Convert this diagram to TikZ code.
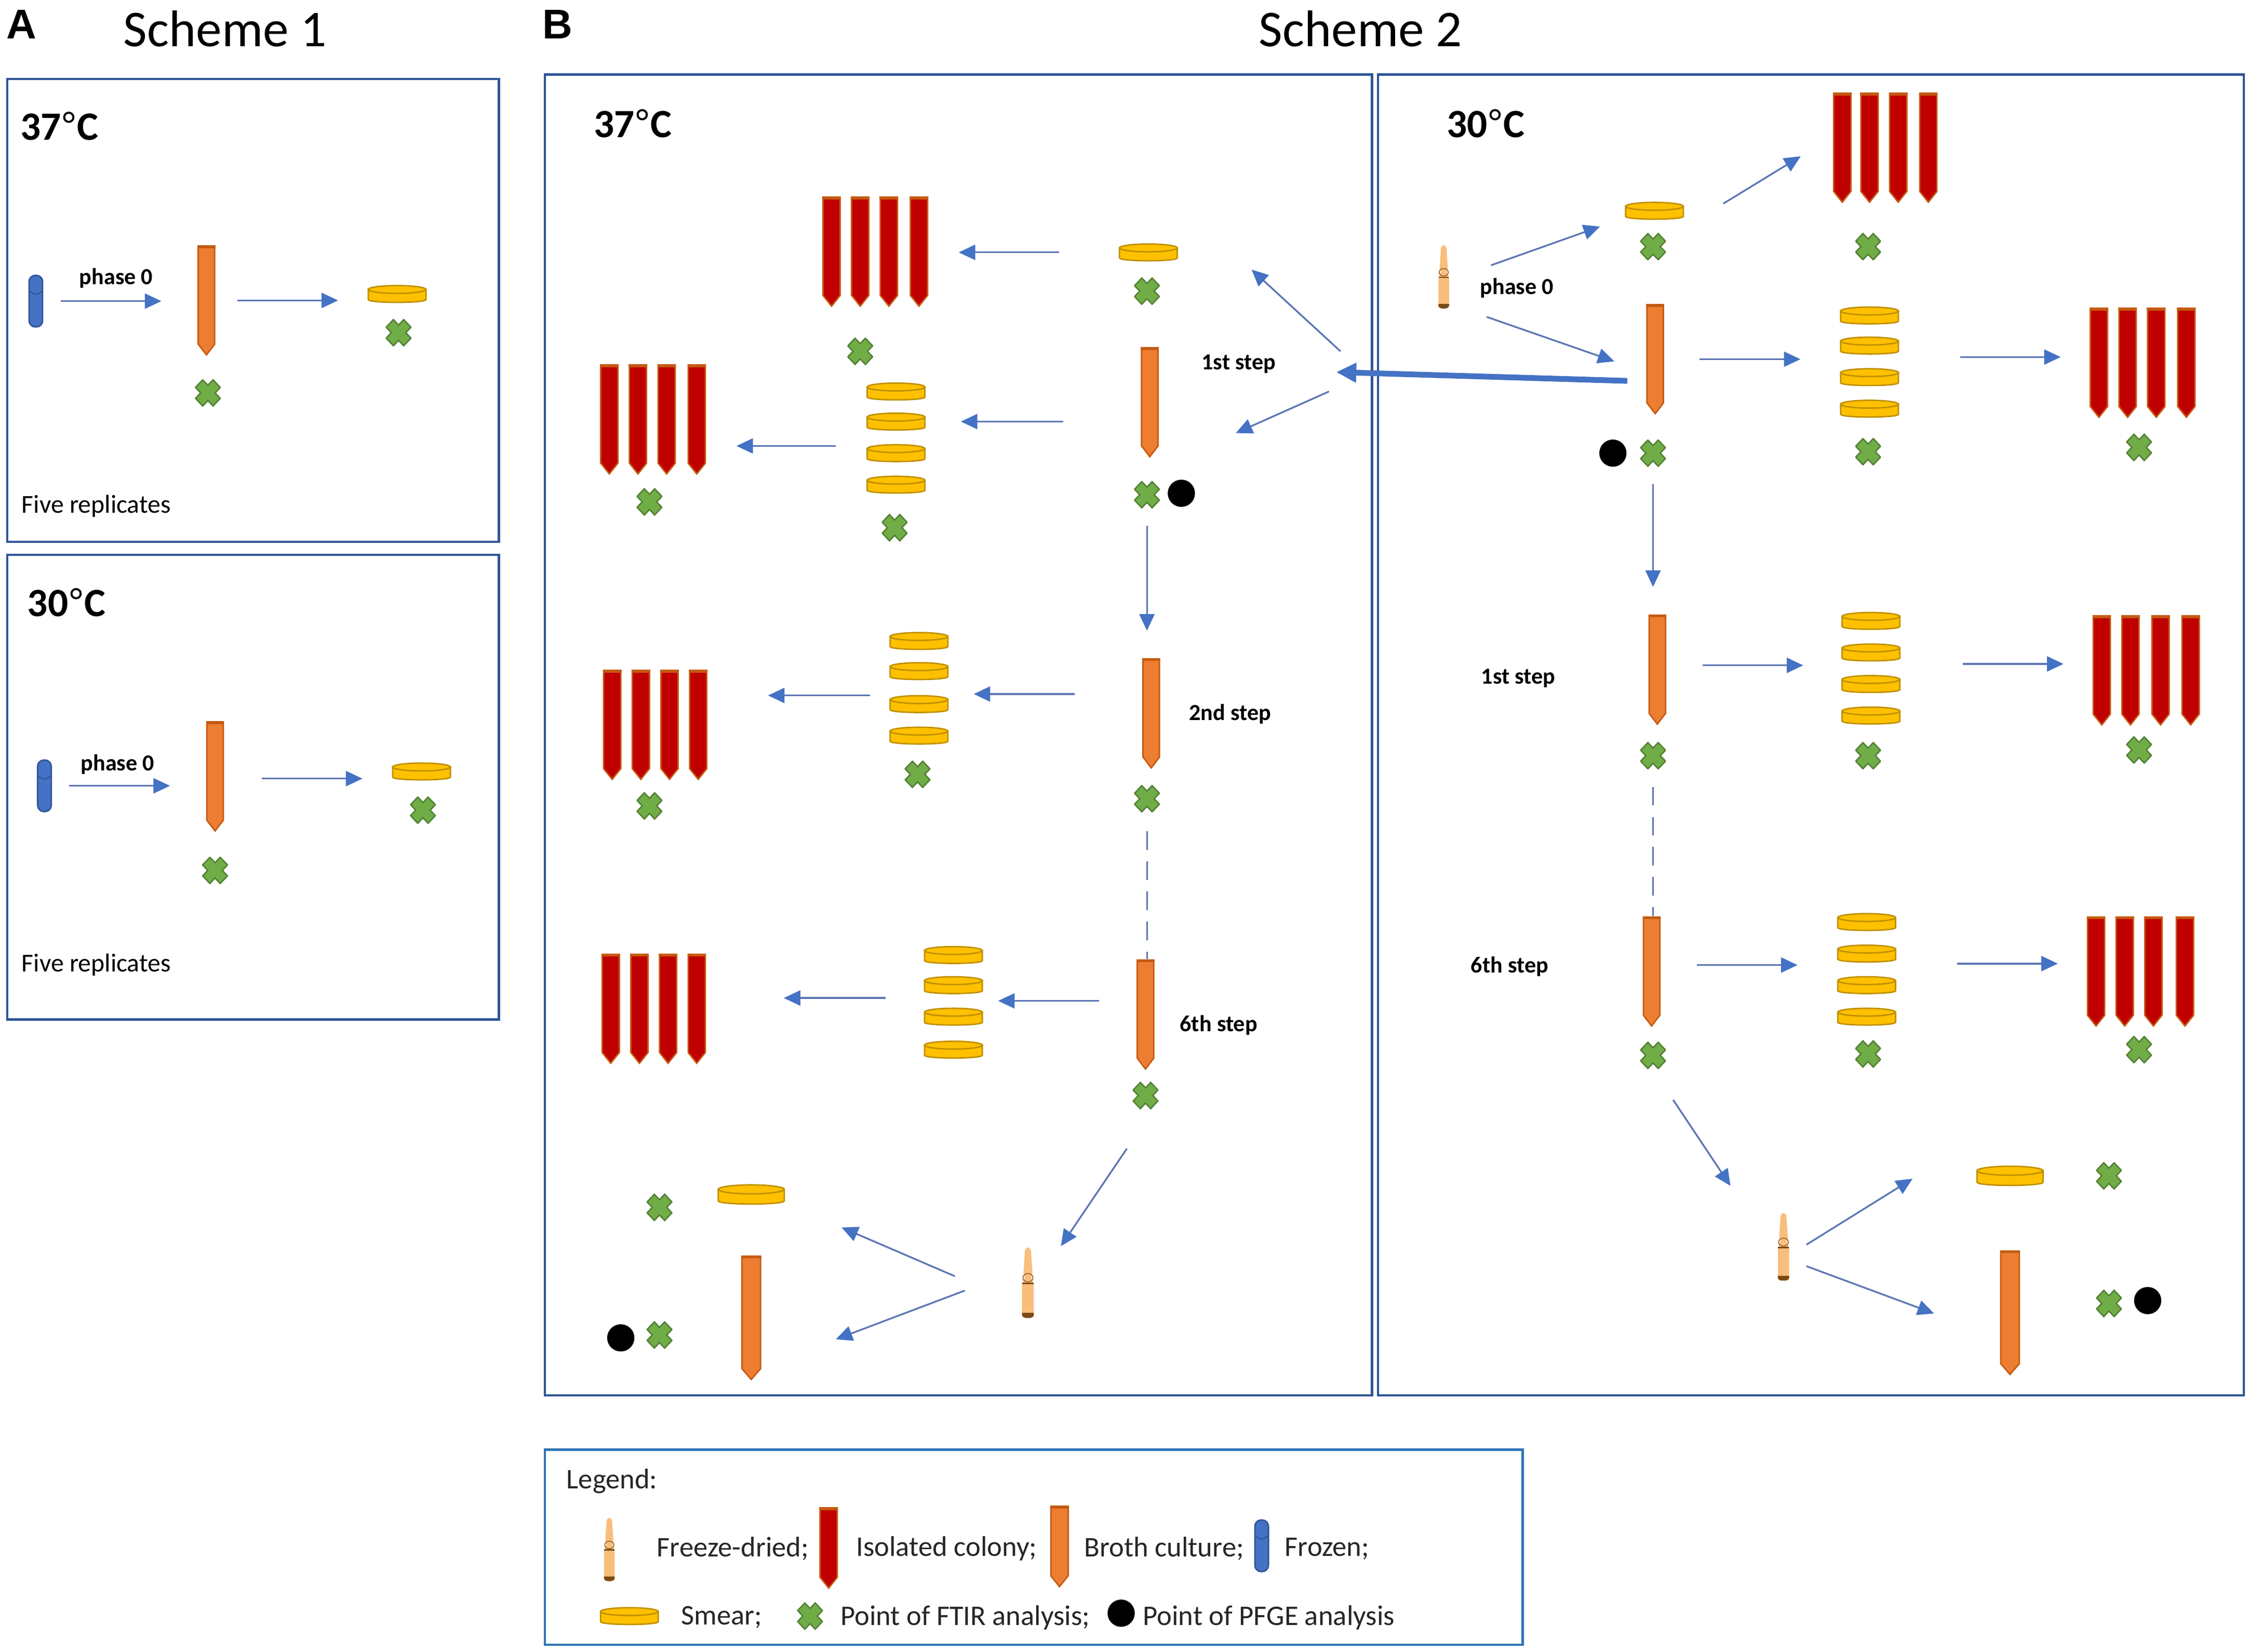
\documentclass[tikz,border=0pt]{standalone}
\usepackage{fontspec}
\setmainfont{Carlito}
\newfontfamily\letterfont{Liberation Sans}
\usetikzlibrary{arrows.meta}
\definecolor{framecol}{HTML}{2F5597}
\definecolor{legendcol}{HTML}{2E75B6}
\definecolor{flowcol}{HTML}{4472C4}
\definecolor{flowline}{HTML}{5B76B4}
\definecolor{brothfill}{HTML}{ED7D31}
\definecolor{brothline}{HTML}{C55A11}
\definecolor{colonyfill}{HTML}{C00000}
\definecolor{smearfill}{HTML}{FFC000}
\definecolor{smearline}{HTML}{BF9000}
\definecolor{ftirfill}{HTML}{70AD47}
\definecolor{ftirline}{HTML}{548235}
\definecolor{ampfill}{HTML}{F9BE7C}
\definecolor{ampline}{HTML}{7B4A12}
\newcommand{\degmark}{{\letterfont\mdseries °}}
\tikzset{
  panel/.style={draw=framecol, line width=1.5pt},
  flow/.style={draw=flowline, line width=1.2pt, ->},
  dashflow/.style={draw=flowline, line width=1.2pt, dash pattern=on 13pt off 8pt},
  gaps/.style 2 args={shorten <=#1pt, shorten >=#2pt},
  tube/.style 2 args={inner sep=0pt, path picture={
      \draw[line width=1pt, draw=#2, fill=#1]
        ([xshift=.5pt,yshift=-.5pt]path picture bounding box.north west)
        -- ([xshift=-.5pt,yshift=-.5pt]path picture bounding box.north east)
        -- ([xshift=-.5pt,yshift=8pt]path picture bounding box.south east)
        -- ([yshift=.5pt]path picture bounding box.south)
        -- ([xshift=.5pt,yshift=8pt]path picture bounding box.south west) -- cycle;
      \fill[#2] (path picture bounding box.north west) rectangle ([yshift=-2pt]path picture bounding box.north east);
    }},
  broth/.style={tube={brothfill}{brothline}, minimum width=12.5pt, minimum height=77pt},
  bigbroth/.style={tube={brothfill}{brothline}, minimum width=14pt, minimum height=87pt},
  colony/.style={tube={colonyfill}{brothline}, minimum width=13pt, minimum height=77pt},
  smear/.style={inner sep=0pt, minimum width=#1*1pt, minimum height=#1*.31pt, path picture={
      \begin{scope}[shift={(path picture bounding box.center)}, x=.01pt*#1, y=-.0031pt*#1]
        \draw[line width=1pt, draw=smearline, fill=smearfill] (-48,-24) -- (-48,30)
          .. controls (-48,50) and (48,50) .. (48,30) -- (48,-24) -- cycle;
        \draw[line width=1pt, draw=smearline, fill=smearfill] (0,-24) ellipse (48 and 21);
      \end{scope}
    }},
  smear/.default=42,
  ftir/.style={inner sep=0pt, minimum width=18pt, minimum height=19pt, path picture={
      \begin{scope}[shift={(path picture bounding box.center)}, x=.18pt, y=-.19pt]
        \draw[line width=1pt, draw=ftirline, fill=ftirfill] (-48,-20) -- (-20,-48) -- (0,-28)
          -- (20,-48) -- (48,-20) -- (28,0) -- (48,20) -- (20,48) -- (0,28) -- (-20,48)
          -- (-48,20) -- (-28,0) -- cycle;
      \end{scope}
    }},
  pfge/.style={circle, fill=black, inner sep=0pt, minimum size=19pt},
  frozen/.style={draw=framecol, line width=1pt, fill=flowcol, rounded corners=4.4pt, inner sep=0pt,
    minimum width=9.5pt, minimum height=36pt, path picture={
      \draw[framecol, line width=.8pt] ([yshift=-11pt]path picture bounding box.north west)
        .. controls ([yshift=-14pt]path picture bounding box.north) .. ([yshift=-11pt]path picture bounding box.north east);
    }},
  ampoule/.style={inner sep=0pt, minimum width=.2pt*#1, minimum height=#1*1pt, path picture={
      \begin{scope}[shift={(path picture bounding box.center)}, x=.002pt*#1, y=-.01pt*#1]
        \fill[ampfill] (-22,-44) .. controls (-20,-52) and (20,-52) .. (22,-44) -- (32,-14)
          -- (22,-8) -- (42,2) -- (42,46) .. controls (42,52) and (-42,52) .. (-42,46)
          -- (-42,2) -- (-22,-8) -- (-32,-14) -- cycle;
        \draw[ampline!70!ampfill, line width=.7pt] (0,-7) ellipse (36 and 6);
        \draw[ampline, line width=1pt] (-40,1) -- (40,1);
        \fill[ampline] (-42,43) -- (42,43) -- (42,46) .. controls (42,52) and (-42,52) .. (-42,46) -- cycle;
      \end{scope}
    }},
  ampoule/.default=46,
  plaintext/.style={inner sep=0pt, anchor=west, yshift=-1pt, font=\fontsize{18}{22}\selectfont},
  legendtext/.style={inner sep=0pt, anchor=west, yshift=-1pt, text=black!85, font=\fontsize{19.8}{23}\selectfont},
  steptext/.style={inner sep=0pt, yshift=-1pt, font=\fontsize{16}{20}\selectfont\bfseries},
  temptext/.style={inner sep=0pt, anchor=west, font=\fontsize{28}{32}\selectfont\bfseries},
  titletext/.style={inner sep=0pt, font=\fontsize{36}{40}\selectfont},
  lettertext/.style={inner sep=0pt, font=\letterfont\fontsize{29}{32}\selectfont\bfseries},
}
\begin{document}
\begin{tikzpicture}[x=1pt, y=-1pt, >={Triangle[length=11.5pt,width=10.5pt,color=flowcol]}]
  \useasboundingbox (0,0) rectangle (1568,1152);

  % frames
  \node[lettertext] (letterA) at (15,17) {A};
  \node[titletext] (titleA) at (157,20) {Scheme 1};
  \node[lettertext] (letterB) at (389,17) {B};
  \node[titletext] (titleB) at (949,20) {Scheme 2};
  \draw[panel] (5,55) rectangle (348,378);
  \draw[panel] (5,387) rectangle (348,711);
  \draw[panel] (380,52) rectangle (957,973);
  \draw[panel] (961,52) rectangle (1565,973);
  \draw[draw=legendcol, line width=1.6pt] (380,1011) rectangle (1062,1147);

  % scheme 1, 37
  \node[temptext] (tempA1) at (14,88) {37\degmark C};
  \node[frozen] (fzA1) at (25,210) {};
  \node[steptext] (phaseA1) at (81,193) {phase 0};
  \node[broth] (brA1) at (144,209.5) {};
  \node[smear] (smA1) at (277,205) {};
  \node[ftir] (ftA1) at (145,274) {};
  \node[ftir] (ftA2) at (278,232) {};
  \node[plaintext] (fiveA1) at (15,352) {Five replicates};
  \draw[flow, gaps={12}{25}] (fzA1.east) -- (fzA1.east -| brA1.west);
  \draw[flow, gaps={15}{20}] (brA1.east) -- (brA1.east -| smA1.west);

  % scheme 1, 30
  \node[temptext] (tempA2) at (19,420) {30\degmark C};
  \node[frozen] (fzA2) at (31,548) {};
  \node[steptext] (phaseA2) at (82,532) {phase 0};
  \node[broth] (brA2) at (150,541.5) {};
  \node[smear] (smA2) at (294,538) {};
  \node[ftir] (ftA3) at (150,607) {};
  \node[ftir] (ftA4) at (295,565) {};
  \node[plaintext] (fiveA2) at (15,672) {Five replicates};
  \draw[flow, gaps={12}{25}] (fzA2.east) -- (fzA2.east -| brA2.west);
  \draw[flow, gaps={26}{20}] ([yshift=-1.5pt]brA2.east) -- ([yshift=-1.5pt]brA2.east -| smA2.west);

  % scheme 2, 37
  \node[temptext] (tempB1) at (414,86) {37\degmark C};
  \node[smear] (smB1) at (801,176) {};
  \node[ftir] (ftB1) at (800,203) {};
  \foreach \cx [count=\i] in {580,600,620,641}
    \node[colony] (coB\i) at (\cx,175.5) {};
  \node[ftir] (ftB2) at (600,245) {};
  \draw[flow, gaps={41}{21}] (smB1.west) -- (smB1.west -| coB4.east);

  \node[steptext] (stepB1) at (864,253) {1st step};
  \node[broth] (brB1) at (802,280.5) {};
  \node[ftir] (ftB3) at (800,345) {};
  \node[pfge] (pfB1) at (824,344) {};
  \foreach \sy [count=\i] in {273,294,316,338}
    \node[smear] (stB\i) at (625,\sy) {};
  \node[ftir] (ftB4) at (624,368) {};
  \foreach \cx [count=\i] in {425,445,465,486}
    \node[colony] (coC\i) at (\cx,292.5) {};
  \node[ftir] (ftB5) at (453,350) {};
  \draw[flow, gaps={54}{24}] (brB1.west |- stB2) -- (stB2.east);
  \draw[flow, gaps={21}{21}] ([yshift=5pt]stB3.west) -- ([yshift=5pt]stB3.west -| coC4.east);

  \node[broth] (brB2) at (803,497.5) {};
  \node[steptext] (stepB2) at (858,497) {2nd step};
  \node[ftir] (ftB6) at (800,557) {};
  \foreach \sy [count=\i] in {447,468,491,513}
    \node[smear] (stC\i) at (641,\sy) {};
  \node[ftir] (ftB7) at (640,540) {};
  \foreach \cx [count=\i] in {427,447,467,487}
    \node[colony] (coD\i) at (\cx,505.5) {};
  \node[ftir] (ftB8) at (453,562) {};
  \draw[flow, gaps={47}{17}] ([yshift=7pt]brB2.west |- stC3) -- ([yshift=7pt]stC3.east);
  \draw[flow, gaps={13}{42}] ([yshift=6pt]stC3.west) -- ([yshift=6pt]stC3.west -| coD4.east);

  \node[broth] (brB3) at (799,707.5) {};
  \node[steptext] (stepB3) at (850,714) {6th step};
  \node[ftir] (ftB9) at (799,764) {};
  \foreach \sy [count=\i] in {666,687,709,732}
    \node[smear] (stD\i) at (665,\sy) {};
  \foreach \cx [count=\i] in {426,446,466,486}
    \node[colony] (coE\i) at (\cx,703.5) {};
  \draw[flow, gaps={26}{10}] ([yshift=11pt]brB3.west |- stD3) -- ([yshift=11pt]stD3.east);
  \draw[flow, gaps={26}{54}] ([yshift=13pt]stD3.west) -- ([yshift=13pt]stD3.west -| coE4.east);

  \draw[flow, gaps={12}{19}] (ftB3.south) -- (ftB3.south |- brB2.north);
  \draw[dashflow, gaps={13}{0}] (ftB6.south) -- (ftB6.south |- brB3.north);

  \node[ampoule=49] (amB1) at (717,894.5) {};
  \node[smear=48] (smB2) at (524,833) {};
  \node[ftir] (ftB10) at (460,842) {};
  \node[bigbroth] (brB4) at (524,919) {};
  \node[ftir] (ftB11) at (460,931) {};
  \node[pfge] (pfB2) at (433,933) {};

  % scheme 2, 30
  \node[temptext] (tempB2) at (1009,86) {30\degmark C};
  \node[ampoule=44] (amC1) at (1007,193) {};
  \node[steptext] (phaseC1) at (1058,200) {phase 0};
  \node[smear] (smC1) at (1154,147) {};
  \node[ftir] (ftC1) at (1153,172) {};
  \foreach \cx [count=\i] in {1285,1304,1324,1345}
    \node[colony] (coF\i) at (\cx,103) {};
  \node[ftir] (ftC2) at (1303,172) {};

  \node[broth] (brC1) at (1154.5,250.5) {};
  \node[pfge] (pfC1) at (1125,316) {};
  \node[ftir] (ftC3) at (1153,316) {};
  \foreach \sy [count=\i] in {220,241,263,285}
    \node[smear] (stF\i) at (1304,\sy) {};
  \node[ftir] (ftC4) at (1303,315) {};
  \foreach \cx [count=\i] in {1464,1484,1504,1525}
    \node[colony] (coG\i) at (\cx,253) {};
  \node[ftir] (ftC5) at (1492,312) {};
  \draw[flow, gaps={24.5}{27}] (brC1.east) -- (brC1.east -| stF1.west);
  \draw[flow, gaps={42}{20}] ([yshift=14pt]stF3.east) -- ([yshift=14pt]stF3.east -| coG1.west);

  \node[steptext] (stepC1) at (1059,472) {1st step};
  \node[broth] (brC2) at (1156,467) {};
  \node[ftir] (ftC6) at (1153,527) {};
  \foreach \sy [count=\i] in {433,455,477,499}
    \node[smear] (stG\i) at (1305,\sy) {};
  \node[ftir] (ftC7) at (1303,527) {};
  \foreach \cx [count=\i] in {1466,1486,1507,1528}
    \node[colony] (coH\i) at (\cx,467.5) {};
  \node[ftir] (ftC8) at (1492,523) {};
  \draw[flow, gaps={25}{26}] ([yshift=3pt]brC2.east) -- ([yshift=3pt]brC2.east -| stG1.west);
  \draw[flow, gaps={43}{20}] ([yshift=14pt]stG3.east) -- ([yshift=14pt]stG3.east -| coH1.west);

  \node[steptext] (stepC2) at (1053,673) {6th step};
  \node[broth] (brC3) at (1152,677.5) {};
  \node[ftir] (ftC9) at (1153,736) {};
  \foreach \sy [count=\i] in {643,665,687,709}
    \node[smear] (stH\i) at (1302,\sy) {};
  \node[ftir] (ftC10) at (1303,735) {};
  \foreach \cx [count=\i] in {1462,1482,1502,1524}
    \node[colony] (coI\i) at (\cx,677.5) {};
  \node[ftir] (ftC11) at (1492,732) {};
  \draw[flow, gaps={25}{27}] ([yshift=4.5pt]brC3.east) -- ([yshift=4.5pt]brC3.east -| stH1.west);
  \draw[flow, gaps={42}{20}] ([yshift=15pt]stH3.east) -- ([yshift=15pt]stH3.east -| coI1.west);

  \draw[flow, gaps={12}{19}] (ftC3.south) -- (ftC3.south |- brC2.north);
  \draw[dashflow, gaps={12}{0}] (ftC6.south) -- (ftC6.south |- brC3.north);

  \node[ampoule=47] (amC2) at (1244,869.5) {};
  \node[smear=48] (smC2) at (1402,820) {};
  \node[ftir] (ftC12) at (1471,820) {};
  \node[bigbroth] (brC4) at (1402,915.5) {};
  \node[ftir] (ftC13) at (1471,909) {};
  \node[pfge] (pfC2) at (1498,907) {};

  % diagonal arrows, free ends
  \foreach \n/\ax/\ay/\bx/\by in {a/935/245/873/188, b/927/273/862/302, c/786/801/740/869,
      d/666/890/587/856, e/673/900/583/934, f/1040/185/1116/158, g/1037/221/1126/252,
      h/1202/142/1256/109, i/1167/767/1207/827, j/1260/868/1334/822, k/1260/883/1349/916} {
    \coordinate (from\n) at (\ax,\ay);
    \coordinate (to\n) at (\bx,\by);
    \draw[flow] (from\n) -- (to\n);
  }
  \coordinate (hubB) at (932,259.5);
  \draw[draw=flowcol, line width=4pt, ->, >={Triangle[length=14pt,width=13pt]}, gaps={13}{0}]
    ([yshift=-15.5pt]brC1.west) -- (hubB);

  % legend
  \node[legendtext] (legTitle) at (395,1032) {Legend:};
  \node[ampoule=44] (legAmp) at (425,1080.5) {};
  \node[legendtext] (legAmpT) at (458,1079) {Freeze-dried;};
  \node[colony, minimum height=57pt] (legCol) at (578,1079.5) {};
  \node[legendtext] (legColT) at (597,1079) {Isolated colony;};
  \node[broth, minimum height=57pt, minimum width=13pt] (legBro) at (739,1078.5) {};
  \node[legendtext] (legBroT) at (756,1079) {Broth culture;};
  \node[frozen] (legFro) at (880,1078) {};
  \node[legendtext] (legFroT) at (896,1079) {Frozen;};
  \node[smear] (legSm) at (439,1127) {};
  \node[legendtext] (legSmT) at (475,1127) {Smear;};
  \node[ftir] (legFt) at (565,1127) {};
  \node[legendtext] (legFtT) at (586,1127) {Point of FTIR analysis;};
  \node[pfge] (legPf) at (782,1125) {};
  \node[legendtext] (legPfT) at (797,1127) {Point of PFGE analysis};
\end{tikzpicture}
\end{document}
